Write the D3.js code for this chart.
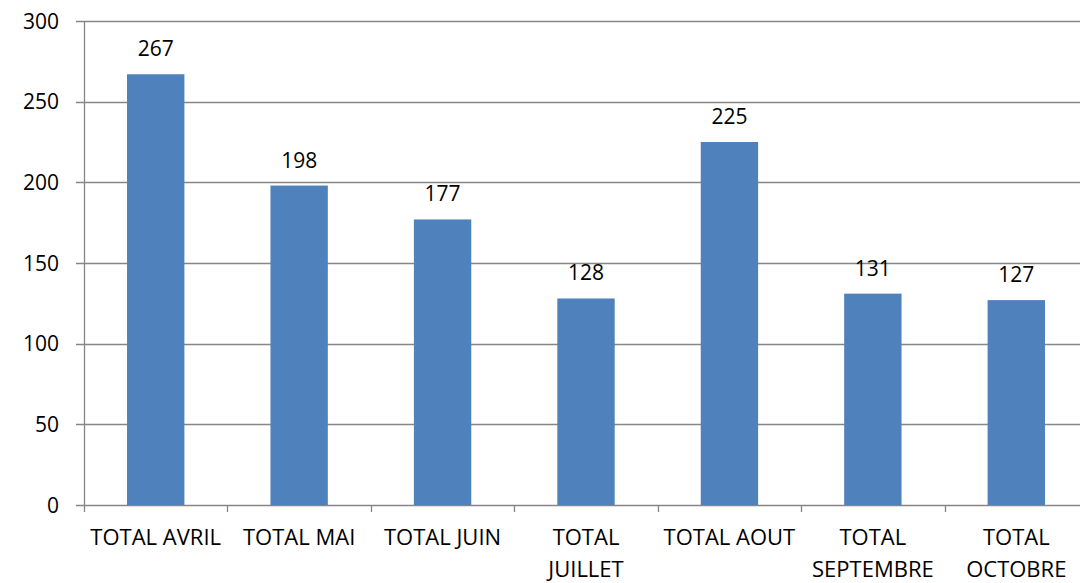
<!DOCTYPE html>
<html>
<head>
<meta charset="utf-8">
<script src="https://cdn.jsdelivr.net/npm/d3@7"></script>
<style>
  body { margin: 0; background: #fff; }
  svg { display: block; font-family: 'Open Sans', sans-serif; }
</style>
</head>
<body>
<svg id="chart" width="1080" height="583"></svg>
<script>
// data
const categories = ['TOTAL AVRIL', 'TOTAL MAI', 'TOTAL JUIN', 'TOTAL\nJUILLET', 'TOTAL AOUT', 'TOTAL\nSEPTEMBRE', 'TOTAL\nOCTOBRE'];
const values = [267, 198, 177, 128, 225, 131, 127];
const yTicks = [0, 50, 100, 150, 200, 250, 300];

const svg = d3.select('#chart');
const margin = { top: 21, left: 84, bottom: 505 };
const plotRight = 1088;

const x = d3.scaleBand().domain(categories).range([margin.left, plotRight]).paddingInner(0.6).paddingOuter(0.3);
const bandStep = x.step();
const y = d3.scaleLinear().domain([0, 300]).range([margin.bottom, margin.top]);

// gridlines + y ticks
svg.append('g')
  .selectAll('line')
  .data(yTicks)
  .enter()
  .append('line')
  .attr('x1', margin.left - 8)
  .attr('x2', plotRight)
  .attr('y1', d => Math.round(y(d)) + 0.5)
  .attr('y2', d => Math.round(y(d)) + 0.5)
  .attr('stroke', '#868686')
  .attr('stroke-width', 1.3);

// y axis line
svg.append('line')
  .attr('x1', margin.left + 0.5).attr('x2', margin.left + 0.5)
  .attr('y1', margin.top).attr('y2', margin.bottom + 7)
  .attr('stroke', '#868686').attr('stroke-width', 1.3);

// category tick marks at band boundaries
svg.append('g')
  .selectAll('line')
  .data(d3.range(1, categories.length))
  .enter()
  .append('line')
  .attr('x1', i => Math.round(margin.left + i * bandStep) + 0.5)
  .attr('x2', i => Math.round(margin.left + i * bandStep) + 0.5)
  .attr('y1', margin.bottom)
  .attr('y2', margin.bottom + 7)
  .attr('stroke', '#868686')
  .attr('stroke-width', 1.3);

// y labels
svg.append('g')
  .selectAll('text')
  .data(yTicks)
  .enter()
  .append('text')
  .attr('x', 59)
  .attr('y', d => y(d) + 7.5)
  .attr('text-anchor', 'end')
  .attr('font-size', 21)
  .attr('fill', '#000')
  .text(d => d);

// bars
svg.append('g')
  .selectAll('rect')
  .data(values)
  .enter()
  .append('rect')
  .attr('x', (d, i) => x(categories[i]))
  .attr('width', x.bandwidth())
  .attr('y', d => y(d))
  .attr('height', d => y(0) - y(d))
  .attr('fill', '#4f81bd');

// value labels
svg.append('g')
  .selectAll('text')
  .data(values)
  .enter()
  .append('text')
  .attr('x', (d, i) => x(categories[i]) + x.bandwidth() / 2)
  .attr('y', d => y(d) - 18)
  .attr('text-anchor', 'middle')
  .attr('font-size', 21)
  .text(d => d);

// category labels
const catLabels = svg.append('g')
  .selectAll('text')
  .data(categories)
  .enter()
  .append('text')
  .attr('x', d => x(d) + x.bandwidth() / 2)
  .attr('y', 545)
  .attr('text-anchor', 'middle')
  .attr('font-size', 22);

catLabels.selectAll('tspan')
  .data(d => d.split('\n'))
  .enter()
  .append('tspan')
  .attr('x', function () { return d3.select(this.parentNode).attr('x'); })
  .attr('dy', (d, i) => (i === 0 ? 0 : 32))
  .text(d => d);
</script>
</body>
</html>
